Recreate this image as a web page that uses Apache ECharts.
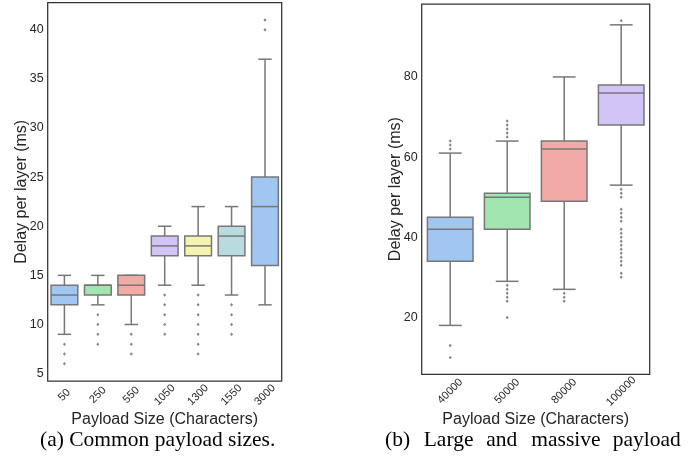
<!DOCTYPE html>
<html>
<head>
<meta charset="utf-8">
<script src="https://cdn.jsdelivr.net/npm/echarts@6/dist/echarts.min.js"></script>
<style>html,body{margin:0;padding:0;background:#fff;}#c{width:694px;height:468px;}</style>
</head>
<body>
<div id="c"></div>
<script>
// ---- data (a) common payload sizes ----
const catsA = ['50', '250', '550', '1050', '1300', '1550', '3000'];
// [lower whisker, Q1, median, Q3, upper whisker]
const boxA = [
  [9, 12, 13, 14, 15],
  [12, 13, 14, 14, 15],
  [10, 13, 14, 15, 15],
  [14, 17, 18, 19, 20],
  [14, 17, 18, 19, 22],
  [13, 17, 19, 20, 22],
  [12, 16, 22, 25, 37]
];
const outA = [
  [8, 7, 6],
  [11, 10, 9, 8],
  [9, 8, 7],
  [13, 12, 11, 10, 9],
  [13, 12, 11, 10, 9, 8, 7],
  [12, 11, 10, 9],
  [40, 41]
];
const ticksA = [5, 10, 15, 20, 25, 30, 35, 40];

// ---- data (b) large and massive payloads ----
const catsB = ['40000', '50000', '80000', '100000'];
const boxB = [
  [18, 34, 42, 45, 61],
  [29, 42, 50, 51, 64],
  [27, 49, 62, 64, 80],
  [53, 68, 76, 78, 93]
];
const outB = [
  [62, 63, 64, 13, 10],
  [65, 66, 67, 68, 69, 28, 27, 26, 25, 24, 20],
  [26, 25, 24],
  [94, 52, 51, 50, 47, 46, 45, 44, 42, 41, 40, 39, 38, 37, 36, 35, 34, 33, 31, 30]
];
const ticksB = [20, 40, 60, 80];

const palette = ['#a0c7f1', '#a2e5b0', '#f2aaa7', '#d3c4f7', '#f4f3af', '#b7dbdf'];
const lineGray = '#777777';
const txt = '#262626';
const sans = 'Liberation Sans, Arial, sans-serif';
const serif = 'Liberation Serif, Times New Roman, serif';

function renderBox(params, api) {
  const i = api.value(0);
  const lo = api.value(1), q1 = api.value(2), med = api.value(3), q3 = api.value(4), hi = api.value(5);
  const band = api.size([1, 0])[0];
  const w = band * 0.8, cw = w / 2;
  const c = api.coord([i, med]);
  const x = c[0];
  const yLo = api.coord([i, lo])[1], yQ1 = api.coord([i, q1])[1], yMed = c[1];
  const yQ3 = api.coord([i, q3])[1], yHi = api.coord([i, hi])[1];
  const ls = { stroke: lineGray, lineWidth: 1.5 };
  return {
    type: 'group',
    children: [
      { type: 'line', shape: { x1: x, y1: yQ1, x2: x, y2: yLo }, style: ls },
      { type: 'line', shape: { x1: x, y1: yQ3, x2: x, y2: yHi }, style: ls },
      { type: 'line', shape: { x1: x - cw / 2, y1: yLo, x2: x + cw / 2, y2: yLo }, style: ls },
      { type: 'line', shape: { x1: x - cw / 2, y1: yHi, x2: x + cw / 2, y2: yHi }, style: ls },
      { type: 'rect', shape: { x: x - w / 2, y: yQ3, width: w, height: yQ1 - yQ3 },
        style: { fill: palette[i % palette.length], stroke: lineGray, lineWidth: 1.5 } },
      { type: 'line', shape: { x1: x - w / 2, y1: yMed, x2: x + w / 2, y2: yMed }, style: ls }
    ]
  };
}

function flatOut(out) {
  const r = [];
  out.forEach((vals, i) => vals.forEach(v => r.push([i, v])));
  return r;
}

const xLabelBase = { fontSize: 11, color: txt, fontFamily: sans, rotate: 45, align: 'center', verticalAlign: 'middle' };
const yLabelBase = { fontSize: 12.5, color: txt, fontFamily: sans };
const nameStyle = { fontSize: 16, color: txt, fontFamily: sans };

const chart = echarts.init(document.getElementById('c'), null, { renderer: 'canvas' });
chart.setOption({
  animation: false,
  backgroundColor: '#fff',
  grid: [
    { left: 47.7, top: 2.7, width: 234, height: 378.3, show: true, borderColor: '#333', borderWidth: 1.25, backgroundColor: 'transparent' },
    { left: 421.7, top: 4, width: 228, height: 370.3, show: true, borderColor: '#333', borderWidth: 1.25, backgroundColor: 'transparent' }
  ],
  xAxis: [
    { type: 'category', gridIndex: 0, data: catsA, boundaryGap: true,
      axisLine: { show: false }, axisTick: { show: false }, splitLine: { show: false },
      axisLabel: Object.assign({ margin: 14, interval: 0 }, xLabelBase),
      name: 'Payload Size (Characters)', nameLocation: 'middle', nameGap: 31, nameMoveOverlap: false, nameTextStyle: nameStyle },
    { type: 'category', gridIndex: 1, data: catsB, boundaryGap: true,
      axisLine: { show: false }, axisTick: { show: false }, splitLine: { show: false },
      axisLabel: Object.assign({ margin: 17, interval: 0 }, xLabelBase),
      name: 'Payload Size (Characters)', nameLocation: 'middle', nameGap: 37, nameMoveOverlap: false, nameTextStyle: nameStyle }
  ],
  yAxis: [
    { type: 'value', gridIndex: 0, min: 4.25, max: 42.75,
      axisLine: { show: false }, axisTick: { show: false }, splitLine: { show: false },
      axisLabel: Object.assign({ margin: 4, customValues: ticksA }, yLabelBase),
      name: 'Delay per layer (ms)', nameLocation: 'middle', nameRotate: 90, nameGap: 18, nameMoveOverlap: false, nameTextStyle: nameStyle },
    { type: 'value', gridIndex: 1, min: 5.8, max: 98.2,
      axisLine: { show: false }, axisTick: { show: false }, splitLine: { show: false },
      axisLabel: Object.assign({ margin: 4, customValues: ticksB }, yLabelBase),
      name: 'Delay per layer (ms)', nameLocation: 'middle', nameRotate: 90, nameGap: 18, nameMoveOverlap: false, nameTextStyle: nameStyle }
  ],
  series: [
    { type: 'custom', xAxisIndex: 0, yAxisIndex: 0, renderItem: renderBox,
      data: boxA.map((b, i) => [i].concat(b)), encode: { x: 0, y: [1, 2, 3, 4, 5] } },
    { type: 'scatter', xAxisIndex: 0, yAxisIndex: 0, data: flatOut(outA),
      symbol: 'diamond', symbolSize: [3, 3.5], itemStyle: { color: '#666' } },
    { type: 'custom', xAxisIndex: 1, yAxisIndex: 1, renderItem: renderBox,
      data: boxB.map((b, i) => [i].concat(b)), encode: { x: 0, y: [1, 2, 3, 4, 5] } },
    { type: 'scatter', xAxisIndex: 1, yAxisIndex: 1, data: flatOut(outB),
      symbol: 'diamond', symbolSize: [3, 3.5], itemStyle: { color: '#666' } }
  ],
  graphic: [
    { type: 'text', left: 40, top: 429, style: { text: '(a) Common payload sizes.', font: '21.5px ' + serif, fill: '#000' } },
    { type: 'text', left: 385, top: 429, style: { text: '(b)', font: '21.5px ' + serif, fill: '#000' } },
    { type: 'text', left: 423.7, top: 429, style: { text: 'Large', font: '21.5px ' + serif, fill: '#000' } },
    { type: 'text', left: 486.3, top: 429, style: { text: 'and', font: '21.5px ' + serif, fill: '#000' } },
    { type: 'text', left: 531.3, top: 429, style: { text: 'massive', font: '21.5px ' + serif, fill: '#000' } },
    { type: 'text', left: 612.7, top: 429, style: { text: 'payload', font: '21.5px ' + serif, fill: '#000' } }
  ]
});
</script>
</body>
</html>
